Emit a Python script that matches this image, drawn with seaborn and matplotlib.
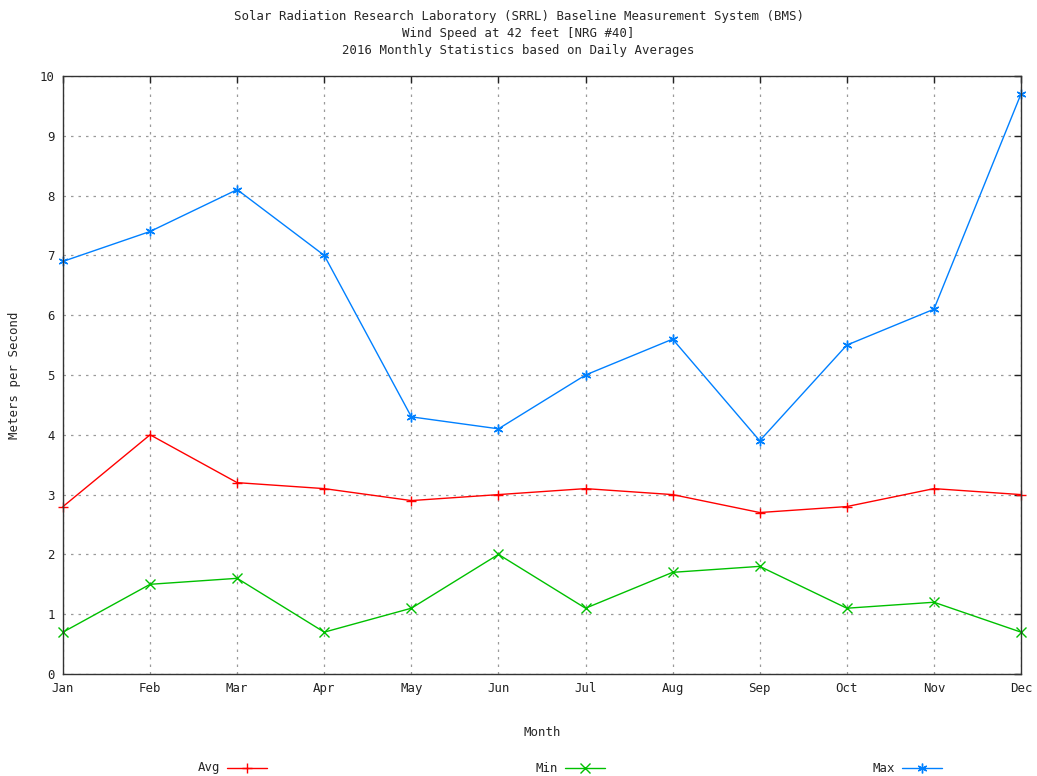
import matplotlib
matplotlib.use("Agg")
import matplotlib.pyplot as plt
import seaborn as sns
import pandas as pd
from matplotlib.lines import Line2D

months = ["Jan", "Feb", "Mar", "Apr", "May", "Jun", "Jul", "Aug", "Sep", "Oct", "Nov", "Dec"]
avg_speed = [2.8, 4.0, 3.2, 3.1, 2.9, 3.0, 3.1, 3.0, 2.7, 2.8, 3.1, 3.0]
min_speed = [0.7, 1.5, 1.6, 0.7, 1.1, 2.0, 1.1, 1.7, 1.8, 1.1, 1.2, 0.7]
max_speed = [6.9, 7.4, 8.1, 7.0, 4.3, 4.1, 5.0, 5.6, 3.9, 5.5, 6.1, 9.7]

sns.set_style("white")
plt.rcParams["font.family"] = ["DejaVu Sans Mono"]
FS = 8.9

df = pd.DataFrame({
    "idx": list(range(12)) * 3,
    "speed": avg_speed + min_speed + max_speed,
    "stat": ["Avg"] * 12 + ["Min"] * 12 + ["Max"] * 12,
})

palette = {"Avg": "#ff0000", "Min": "#00c000", "Max": "#0080ff"}
markers = {"Avg": "+", "Min": "x", "Max": (6, 2, 0)}

fig = plt.figure(figsize=(10.37, 7.76), dpi=100)
ax = fig.add_axes([63 / 1037, 1 - 674 / 776, (1021 - 63) / 1037, (674 - 76) / 776])

sns.lineplot(data=df, x="idx", y="speed", hue="stat", style="stat",
             palette=palette, markers=markers, dashes=False, linewidth=1.0,
             markersize=7, ax=ax, legend=False)
for ln in ax.lines:
    ln.set_markeredgecolor(ln.get_color())
    ln.set_markeredgewidth(1.0)
    ln.set_clip_on(False)

ax.set_xlim(0, 11)
ax.set_ylim(0, 10)
ax.set_xticks(range(12))
ax.set_xticklabels(months)
ax.set_yticks(range(11))
ax.tick_params(direction="in", length=5, width=1, top=True, right=True,
               labelsize=FS, colors="#222222", pad=6)
for s in ax.spines.values():
    s.set_color("#333333")
    s.set_linewidth(1)
ax.grid(True, color="#9a9a9a", linestyle=(0, (2, 4)), linewidth=0.9)
ax.set_xlabel("Month", fontsize=FS, labelpad=22)
ax.set_ylabel("Meters per Second", fontsize=FS)
ax.yaxis.set_label_coords(-42 / 958, 0.5)

fig.text(0.5, 1 - 10 / 776,
         "Solar Radiation Research Laboratory (SRRL) Baseline Measurement System (BMS)\n"
         "Wind Speed at 42 feet [NRG #40]\n"
         "2016 Monthly Statistics based on Daily Averages",
         ha="center", va="top", fontsize=FS, linespacing=1.4)

# legend row along the bottom
for name, xpos in [("Avg", 197), ("Min", 535), ("Max", 872)]:
    fig.text((xpos + 23) / 1037, 1 - 768 / 776, name, ha="right", va="center", fontsize=FS)
    lx = [(xpos + 30) / 1037, (xpos + 70) / 1037]
    fig.add_artist(Line2D(lx, [1 - 768 / 776] * 2, color=palette[name], linewidth=1.0))
    fig.add_artist(Line2D([(lx[0] + lx[1]) / 2], [1 - 768 / 776], color=palette[name],
                          marker=markers[name], markersize=7, markeredgewidth=1.0,
                          linestyle="none"))

fig.savefig("out.png", dpi=100)
